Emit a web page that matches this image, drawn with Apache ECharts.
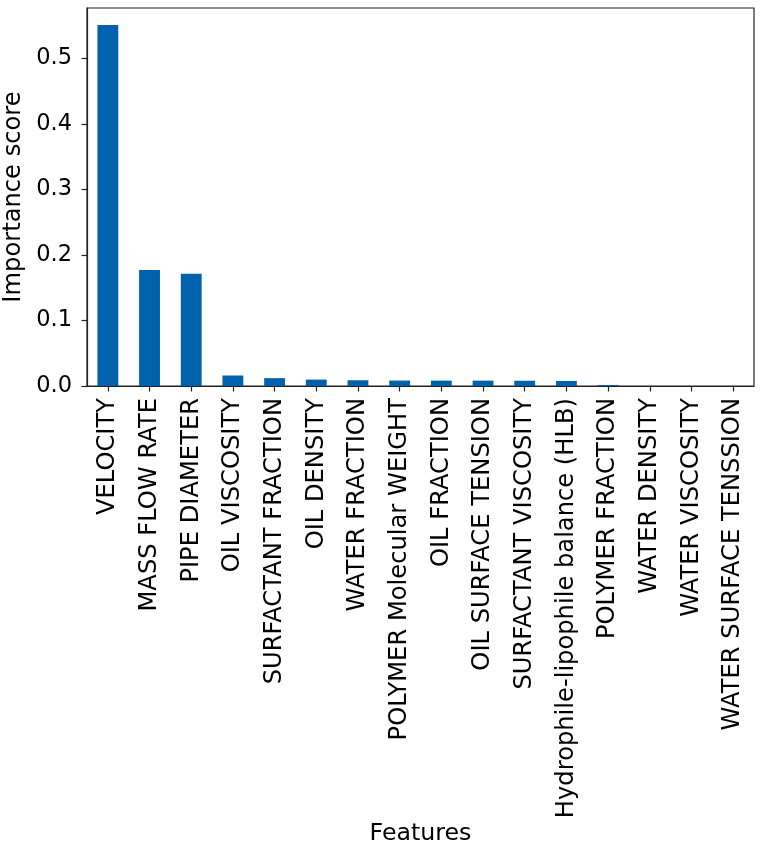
<!DOCTYPE html>
<html>
<head>
<meta charset="utf-8">
<script src="https://cdn.jsdelivr.net/npm/echarts@6/dist/echarts.min.js"></script>
<style>
  html, body { margin: 0; padding: 0; background: #fff; }
  #chart { width: 761px; height: 849px; }
</style>
</head>
<body>
<div id="chart"></div>
<script>
const categories = [
  'VELOCITY', 'MASS FLOW RATE', 'PIPE DIAMETER', 'OIL VISCOSITY',
  'SURFACTANT FRACTION', 'OIL DENSITY', 'WATER FRACTION',
  'POLYMER Molecular WEIGHT', 'OIL FRACTION', 'OIL SURFACE TENSION',
  'SURFACTANT VISCOSITY', 'Hydrophile-lipophile balance (HLB)',
  'POLYMER FRACTION', 'WATER DENSITY', 'WATER VISCOSITY', 'WATER SURFACE TENSSION'
];
const importance = [
  0.551, 0.177, 0.1715, 0.016,
  0.012, 0.0098, 0.0088,
  0.0083, 0.0082, 0.0082,
  0.0080, 0.0077,
  0.0015, 0.0, 0.0, 0.0
];
const yTicks = [0, 0.1, 0.2, 0.3, 0.4, 0.5];
const yMax = 0.577;

const FONT = 'DejaVu Sans';
const FS = 22.5;
const FS_ROT = 24.2;

const chart = echarts.init(document.getElementById('chart'), null, { renderer: 'canvas' });
chart.setOption({
  animation: false,
  backgroundColor: '#ffffff',
  textStyle: { fontFamily: FONT },
  grid: {
    left: 87, right: 7, top: 8, bottom: 463,
    containLabel: false,
    outerBoundsMode: 'none',
    show: true, borderColor: '#222', borderWidth: 1.2, backgroundColor: 'transparent'
  },
  xAxis: {
    type: 'category',
    data: categories,
    boundaryGap: true,
    name: 'Features',
    nameLocation: 'middle',
    nameGap: 434,
    nameTextStyle: { fontFamily: FONT, fontSize: 23.7, color: '#000' },
    axisLine: { show: true, lineStyle: { color: '#222', width: 1.2 } },
    axisTick: { show: true, alignWithLabel: true, length: 5.5, inside: false, lineStyle: { color: '#222', width: 1.2 } },
    axisLabel: { interval: 0, rotate: 90, margin: 12, fontFamily: FONT, fontSize: FS_ROT, color: '#000' },
    splitLine: { show: false }
  },
  yAxis: {
    type: 'value',
    min: 0,
    max: yMax,
    interval: 0.1,
    name: 'Importance score',
    nameLocation: 'middle',
    nameRotate: 90,
    nameGap: 55,
    nameTextStyle: { fontFamily: FONT, fontSize: FS_ROT, color: '#000' },
    axisLine: { show: true, lineStyle: { color: '#222', width: 1.2 } },
    axisTick: { show: true, length: 5.5, customValues: yTicks, lineStyle: { color: '#222', width: 1.2 } },
    axisLabel: {
      customValues: yTicks,
      margin: 15, fontFamily: FONT, fontSize: FS, color: '#000',
      formatter: v => v.toFixed(1)
    },
    splitLine: { show: false }
  },
  series: [{
    type: 'bar',
    data: importance,
    barWidth: '50%',
    itemStyle: { color: '#0062ad' }
  }]
});
</script>
</body>
</html>
